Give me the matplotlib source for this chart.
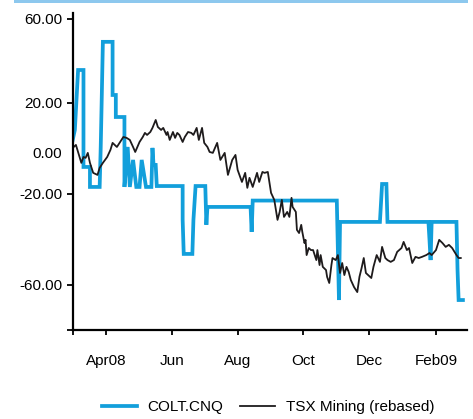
import pandas as pd
import matplotlib
matplotlib.use("Agg")
import matplotlib.pyplot as plt
import matplotlib.patches as patches

plt.rcParams['font.family'] = ['Liberation Sans', 'DejaVu Sans']

# -------------------------------------------------------
# Data
# x = days since 2008-03-01, y = % change
# -------------------------------------------------------
start = pd.Timestamp('2008-03-01')

colt_days = [0, 2, 3, 5, 10, 10, 16, 16, 25, 26, 27, 28, 37, 37, 40, 40, 48, 48,
             51, 53, 56, 59, 62, 64, 68, 73, 74, 75, 77, 78, 102, 102, 103, 111,
             112, 114, 123, 124, 125, 165, 166, 167, 245, 246, 247, 248, 285, 287,
             291, 292, 330, 331, 332, 333, 356, 357, 358, 362]
colt_vals = [3.7, 8.1, 16.9, 34.5, 34.5, -8.2, -8.2, -17.0, -17.0, 0.6, 23.5, 46.9,
             46.9, 23.5, 23.5, 13.8, 13.8, -17.0, 0.6, -17.0, -5.1, -17.0, -17.0,
             -5.1, -17.0, -17.0, 0.2, -7.3, -7.3, -16.6, -16.6, -31.5, -46.5, -46.5,
             -31.5, -16.6, -16.6, -33.7, -25.8, -25.8, -36.8, -23.0, -23.0, -44.8,
             -66.8, -32.4, -32.4, -15.7, -15.7, -32.4, -32.4, -40.4, -49.2, -32.4,
             -32.4, -53.6, -66.8, -66.8]

tsx_days = [0, 3, 5, 8, 10, 12, 14, 16, 19, 23, 25, 28, 32, 35, 37, 41, 44, 47, 50,
            53, 56, 58, 60, 62, 65, 67, 69, 72, 74, 77, 79, 82, 84, 87, 88, 90, 93,
            95, 97, 99, 102, 104, 107, 110, 112, 115, 117, 120, 122, 125, 127, 130,
            134, 137, 141, 144, 148, 151, 153, 157, 160, 162, 164, 167, 171, 173,
            176, 178, 181, 184, 187, 190, 192, 194, 196, 199, 201, 203, 204, 207,
            208, 210, 212, 213, 215, 216, 217, 219, 221, 223, 226, 227, 229, 230,
            232, 235, 236, 238, 240, 241, 244, 246, 248, 250, 252, 254, 256, 258,
            261, 264, 266, 268, 270, 272, 274, 277, 279, 282, 285, 287, 290, 292,
            295, 298, 301, 305, 307, 310, 312, 315, 318, 321, 324, 328, 331, 333,
            337, 340, 343, 346, 349, 352, 356, 358, 360]
tsx_vals = [0.2, 1.5, -1.6, -6.4, -3.8, -4.2, -2.0, -6.4, -10.8, -11.7, -8.6, -6.4,
            -3.8, -0.7, 2.4, 0.6, 2.8, 5.0, 4.6, 3.7, 0.6, -1.6, 0.6, 2.8, 5.0, 6.8,
            5.9, 7.2, 9.0, 12.5, 9.4, 8.1, 9.0, 5.9, 7.2, 3.7, 7.2, 4.6, 6.8, 5.9,
            2.8, 5.0, 7.2, 6.8, 5.9, 9.0, 3.7, 9.0, 2.4, 0.6, -1.6, -2.0, 2.4, -5.1,
            -2.0, -11.7, -5.1, -2.9, -9.5, -14.8, -10.8, -17.4, -13.0, -17.0, -10.8,
            -14.8, -10.4, -10.8, -10.4, -19.6, -22.7, -31.5, -28.0, -22.7, -30.2,
            -28.0, -30.2, -21.8, -25.8, -28.0, -35.9, -37.3, -33.7, -36.8, -41.7,
            -40.3, -47.0, -43.9, -44.8, -44.8, -49.2, -44.8, -51.4, -47.0, -52.2,
            -53.6, -56.6, -59.3, -51.4, -48.3, -49.2, -47.0, -54.9, -50.5, -55.8,
            -52.2, -54.4, -58.0, -61.1, -63.3, -56.6, -52.7, -48.3, -54.9, -55.8,
            -57.1, -52.2, -47.0, -50.0, -43.4, -48.3, -49.2, -50.0, -49.2, -45.6,
            -43.9, -41.2, -44.8, -43.9, -50.5, -47.8, -48.3, -47.8, -47.0, -46.1,
            -47.0, -44.8, -40.3, -41.7, -43.4, -42.5, -43.9, -47.0, -48.3, -48.3]

xtick_dates = ['2008-03-01', '2008-04-01', '2008-06-01', '2008-08-01',
               '2008-10-01', '2008-12-01', '2009-02-01']
xtick_labels = ['', 'Apr08', 'Jun', 'Aug', 'Oct', 'Dec', 'Feb09']
ytick_vals = [57, 20, -2, -20, -60, -80]
ytick_labels = ['60.00', '20.00', '0.00', '-20.00', '-60.00', '']

colt_dates = start + pd.to_timedelta(colt_days, unit='D')
tsx_dates = start + pd.to_timedelta(tsx_days, unit='D')

# -------------------------------------------------------
# Plot
# -------------------------------------------------------
fig = plt.figure(figsize=(4.73, 4.19), dpi=100)
ax = fig.add_axes([72.7 / 473, 1 - 330 / 419, 394 / 473, 317 / 419])

# thin light-blue band at the top of the image
fig.patches.append(patches.Rectangle((14 / 473, 1 - 3 / 419), 454 / 473, 3 / 419,
                                     transform=fig.transFigure, color='#8dc8ee',
                                     lw=0))

ax.plot(colt_dates, colt_vals, color='#129fdb', lw=2.7, label='COLT.CNQ',
        solid_joinstyle='miter')
ax.plot(tsx_dates, tsx_vals, color='#1e1b1c', lw=1.3, label='TSX Mining (rebased)')

ax.set_xlim(start, start + pd.Timedelta(days=365.5))
ax.set_ylim(-80, 59.6)

ax.set_xticks(pd.to_datetime(xtick_dates))
ax.set_xticklabels(xtick_labels, fontsize=11)
ax.set_yticks(ytick_vals)
ax.set_yticklabels(ytick_labels, fontsize=11)

for sp in ['top', 'right']:
    ax.spines[sp].set_visible(False)
for sp in ['left', 'bottom']:
    ax.spines[sp].set_linewidth(1.6)

ax.tick_params(axis='y', direction='out', length=4.5, width=1.3, pad=3)
ax.tick_params(axis='x', direction='out', length=3.5, width=1.3, pad=14)
# the 0.00 label has no tick mark
ax.yaxis.get_major_ticks()[2].tick1line.set_visible(False)

fig.legend(loc='center', bbox_to_anchor=(0.567, 0.029), ncol=2, frameon=False,
           fontsize=11, handlelength=2.3, handletextpad=0.7, columnspacing=1.1)

plt.savefig('out.png', dpi=100)
